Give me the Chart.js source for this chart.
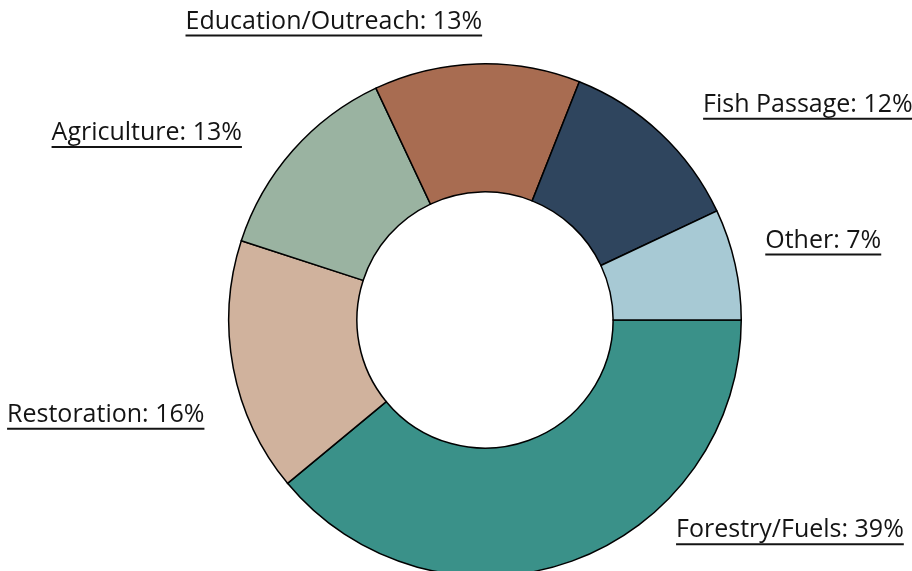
<!DOCTYPE html>
<html>
<head>
<meta charset="utf-8">
<script src="https://cdn.jsdelivr.net/npm/chart.js@4.4.1/dist/chart.umd.min.js"></script>
<style>
  html, body { margin: 0; padding: 0; background: #fff; overflow: hidden; }
  #wrap { position: relative; width: 912px; height: 660px; }
</style>
</head>
<body>
<div id="wrap"><canvas id="grafico"></canvas></div>
<script>
// chart data
const categorias = ['Forestry/Fuels', 'Restoration', 'Agriculture', 'Education/Outreach', 'Fish Passage', 'Other'];
const porcentajes = [39, 16, 13, 13, 12, 7];
const colores = ['#3a9189', '#d0b29d', '#9ab3a1', '#a86c51', '#2f455e', '#a7c9d4'];

// where each label sits, relative to the centre, in units of the outer radius
const labelOffsets = [[1.19, 0.82], [-1.48, 0.37], [-1.32, -0.73], [-0.59, -1.165], [1.26, -0.84], [1.32, -0.31]];

const labelPlugin = {
  id: 'etiquetas',
  afterDraw(chart) {
    const ctx = chart.ctx;
    const arc = chart.getDatasetMeta(0).data[0];
    const cx = arc.x, cy = arc.y, R = arc.outerRadius;
    ctx.save();
    ctx.font = '25px "Open Sans"';
    ctx.fillStyle = '#141414';
    ctx.strokeStyle = '#141414';
    ctx.lineWidth = 2;
    ctx.textAlign = 'center';
    ctx.textBaseline = 'middle';
    categorias.forEach((c, i) => {
      const txt = c + ': ' + porcentajes[i] + '%';
      const x = cx + labelOffsets[i][0] * R;
      const y = cy + labelOffsets[i][1] * R;
      ctx.fillText(txt, x, y);
      const w = ctx.measureText(txt).width;
      ctx.beginPath();
      ctx.moveTo(x - w / 2, y + 14);
      ctx.lineTo(x + w / 2, y + 14);
      ctx.stroke();
    });
    ctx.restore();
  }
};

new Chart(document.getElementById('grafico'), {
  type: 'doughnut',
  data: {
    labels: categorias,
    datasets: [{
      data: porcentajes,
      backgroundColor: colores,
      borderColor: '#000',
      borderWidth: 1.5,
      borderJoinStyle: 'miter'
    }]
  },
  options: {
    responsive: true,
    maintainAspectRatio: false,
    animation: false,
    rotation: 90,
    cutout: '50%',
    layout: { padding: { left: 228, right: 170, top: 63, bottom: 83 } },
    plugins: {
      legend: { display: false },
      tooltip: { enabled: false }
    }
  },
  plugins: [labelPlugin]
});
</script>
</body>
</html>
